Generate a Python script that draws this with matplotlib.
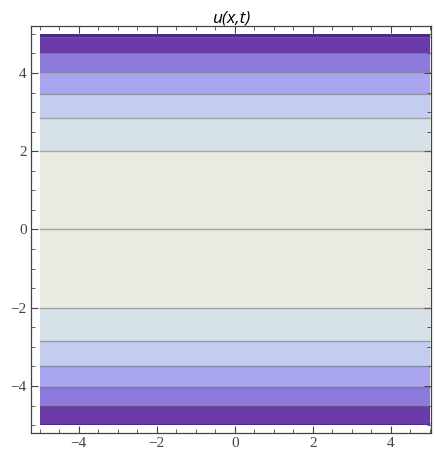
import numpy as np
import matplotlib.pyplot as plt
from matplotlib.ticker import MultipleLocator

# contour band edges in t, top to bottom
band_edges = [5.0, 4.93, 4.5, 4.02, 3.47, 2.84, 2.0, -2.0, -2.84, -3.48, -4.03, -4.5, -4.95, -5.0]
band_colors = ["#4b2590", "#6a3aab", "#8c7bdb", "#a9a5ee", "#c3cdef", "#d7e2e8", "#eaeae2",
               "#d7e2e8", "#c3cdef", "#a9a5ee", "#8c7bdb", "#6a3aab", "#4b2590"]
contour_lines = [4.93, 4.5, 4.02, 3.47, 2.84, 2.0, 0.0, -2.0, -2.84, -3.48, -4.03, -4.5, -4.95]
x_range = [-5.0, 5.0]

xticks = [-4, -2, 0, 2, 4]
yticks = [-4, -2, 0, 2, 4]


def main():
    fig = plt.figure(figsize=(4.36, 4.54), dpi=100)
    ax = fig.add_axes([0.0711, 0.0463, 0.9174, 0.8964])

    xs = np.array(x_range)
    for i in range(0, len(band_colors)):
        ax.fill_between(xs, band_edges[i + 1], band_edges[i], color=band_colors[i],
                        linewidth=0)
    for t in contour_lines:
        ax.plot(xs, [t, t], color="#6e6e6e", alpha=0.55, linewidth=1.0)

    ax.set_xlim(-5.22, 5.03)
    ax.set_ylim(-5.2, 5.2)

    ax.set_xticks(xticks)
    ax.set_yticks(yticks)
    ax.xaxis.set_minor_locator(MultipleLocator(0.5))
    ax.yaxis.set_minor_locator(MultipleLocator(0.5))
    ax.set_xticklabels(["\u2212%d" % -v if v < 0 else "%d" % v for v in xticks])
    ax.set_yticklabels(["\u2212%d" % -v if v < 0 else "%d" % v for v in yticks])
    ax.tick_params(which="both", direction="in", top=True, right=True,
                   labeltop=False, labelright=False, color="#444444",
                   labelcolor="#444444", labelsize=11, pad=3)
    ax.tick_params(which="major", length=5, width=0.8)
    ax.tick_params(which="minor", length=3, width=0.6)
    for lbl in ax.get_xticklabels() + ax.get_yticklabels():
        lbl.set_family("Liberation Serif")
    for s in ax.spines.values():
        s.set_color("#444444")
        s.set_linewidth(0.9)

    ax.set_title("u(x,t)", fontsize=12.5, style="italic", family="Open Sans", pad=1)

    fig.savefig("out.png", dpi=100)


if __name__ == '__main__':
    main()
